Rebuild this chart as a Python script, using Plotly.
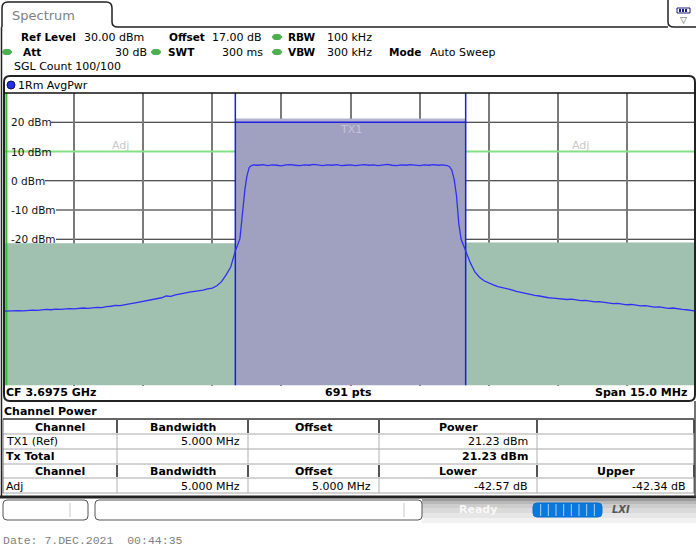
import plotly.graph_objects as go

W, H = 696, 551

# ---------------- data ----------------
center_freq_mhz = 3697.5
span_mhz = 15.0
sweep_points = 691
channel_bw_mhz = 5.0
adj_offset_mhz = 5.0
tx_power_dbm = 21.23
adj_lower_db = -42.57
adj_upper_db = -42.34
ref_level_dbm = 30.0
bottom_level_dbm = -70.0
limit_line_dbm = 10.0
y_tick_values = [20, 10, 0, -10, -20]
y_tick_labels = ["20 dBm", "10 dBm", "0 dBm", "-10 dBm", "-20 dBm"]

# trace (AvgPwr), dBm
adj_left_start, adj_left_step = 3690.0, 0.1
adj_left_level = [
    -44.6, -44.5, -44.6, -44.4, -44.5, -44.3, -44.2, -44.3, -44.1, -44.0,
    -44.1, -43.9, -44.0, -43.8, -43.7, -43.8, -43.6, -43.5, -43.6, -43.4,
    -43.3, -43.4, -43.0, -42.9, -42.6, -42.7, -42.3, -42.1, -41.8, -41.5,
    -41.2, -41.0, -40.6, -40.4, -40.0, -39.4, -39.5, -39.0, -38.8, -38.4,
    -38.1, -37.9, -37.6, -37.4, -37.0, -36.7, -35.9, -34.5, -32.2, -29.5,
]
rise_freq = [3695.0, 3695.05, 3695.10, 3695.15, 3695.18, 3695.21, 3695.25, 3695.30, 3695.35]
rise_level = [-24.0, -21.8, -19.8, -12.0, -6.5, -2.7, 1.5, 4.5, 5.2]
top_start, top_step = 3695.4, 0.1
top_level = [
    5.4, 5.3, 5.5, 5.2, 5.4, 5.3, 5.1, 5.4, 5.5, 5.3,
    5.2, 5.4, 5.3, 5.6, 5.3, 5.2, 5.4, 5.3, 5.5, 5.2,
    5.3, 5.4, 5.2, 5.3, 5.5, 5.3, 5.4, 5.2, 5.4, 5.6,
    5.3, 5.2, 5.4, 5.3, 5.5, 5.3, 5.2, 5.4, 5.3, 5.5,
    5.3, 5.4, 5.2,
]
fall_freq = [3699.65, 3699.70, 3699.75, 3699.80, 3699.85, 3699.90, 3699.95, 3700.0]
fall_level = [4.8, 3.6, 0.5, -5.0, -14.5, -20.0, -22.0, -24.0]
adj_right_start, adj_right_step = 3700.1, 0.1
adj_right_level = [
    -28.0, -31.2, -33.0, -34.2, -35.0, -35.6, -36.2, -36.5, -37.0, -37.3,
    -37.8, -38.2, -38.5, -38.8, -39.2, -39.4, -39.8, -40.0, -40.1, -40.3,
    -40.4, -40.6, -40.5, -40.8, -41.0, -40.9, -41.2, -41.4, -41.3, -41.6,
    -41.8, -42.0, -41.9, -42.2, -42.4, -42.3, -42.6, -42.8, -42.7, -43.0,
    -43.2, -43.1, -43.4, -43.6, -43.5, -43.8, -44.0, -44.1, -44.3, -44.6,
]

# result table
tbl_header1 = ["Channel", "Bandwidth", "Offset", "Power", ""]
tbl_row_tx = ["TX1 (Ref)", "5.000 MHz", "", "21.23 dBm", ""]
tbl_row_total = ["Tx Total", "", "", "21.23 dBm", ""]
tbl_header2 = ["Channel", "Bandwidth", "Offset", "Lower", "Upper"]
tbl_row_adj = ["Adj", "5.000 MHz", "5.000 MHz", "-42.57 dB", "-42.34 dB"]

# ---------------- build trace ----------------
freqs = [round(adj_left_start + i * adj_left_step, 3) for i in range(len(adj_left_level))]
levels = list(adj_left_level)
freqs += rise_freq
levels += rise_level
freqs += [round(top_start + i * top_step, 3) for i in range(len(top_level))]
levels += top_level
freqs += fall_freq
levels += fall_level
freqs += [round(adj_right_start + i * adj_right_step, 3) for i in range(len(adj_right_level))]
levels += adj_right_level

f_start = center_freq_mhz - span_mhz / 2
f_stop = center_freq_mhz + span_mhz / 2
tx_lo = center_freq_mhz - channel_bw_mhz / 2
tx_hi = center_freq_mhz + channel_bw_mhz / 2
adjL_lo = center_freq_mhz - adj_offset_mhz - channel_bw_mhz / 2
adjL_hi = center_freq_mhz - adj_offset_mhz + channel_bw_mhz / 2
adjU_lo = center_freq_mhz + adj_offset_mhz - channel_bw_mhz / 2
adjU_hi = center_freq_mhz + adj_offset_mhz + channel_bw_mhz / 2
adjL_top = tx_power_dbm + adj_lower_db
adjU_top = tx_power_dbm + adj_upper_db


def PX(x):
    return x / W


def PY(y):
    return 1 - y / H


shapes = []
ann = []

FONT = "DejaVu Sans"


def txt(x, y, s, size=11, bold=False, color="#000000", anchor="left", family=FONT):
    ann.append(dict(xref="paper", yref="paper", x=PX(x), y=PY(y),
                    text=("<b>%s</b>" % s) if bold else s, showarrow=False,
                    xanchor=anchor, yanchor="middle", borderpad=0,
                    font=dict(family=family, size=size, color=color)))


def pline(x0, y0, x1, y1, color="#000", width=1, layer="above"):
    shapes.append(dict(type="line", xref="paper", yref="paper", x0=PX(x0), y0=PY(y0),
                       x1=PX(x1), y1=PY(y1), line=dict(color=color, width=width), layer=layer))


def prect(x0, y0, x1, y1, fill, line=None, lw=0, layer="above"):
    shapes.append(dict(type="rect", xref="paper", yref="paper", x0=PX(x0), y0=PY(y0),
                       x1=PX(x1), y1=PY(y1), fillcolor=fill,
                       line=dict(color=line or fill, width=lw), layer=layer))


def proundrect(x0, y0, x1, y1, r, color="#000", width=1, fill=None, layer="above"):
    rx, ry = r / W, r / H
    a0, a1 = PX(x0), PX(x1)
    b0, b1 = PY(y0), PY(y1)  # b0 top, b1 bottom
    p = (f"M {a0+rx},{b0} L {a1-rx},{b0} Q {a1},{b0} {a1},{b0-ry} "
         f"L {a1},{b1+ry} Q {a1},{b1} {a1-rx},{b1} L {a0+rx},{b1} Q {a0},{b1} {a0},{b1+ry} "
         f"L {a0},{b0-ry} Q {a0},{b0} {a0+rx},{b0} Z")
    shapes.append(dict(type="path", xref="paper", yref="paper", path=p,
                       line=dict(color=color, width=width),
                       fillcolor=fill if fill else "rgba(0,0,0,0)", layer=layer))


def dot(x, y, rx, ry, color, line=None):
    shapes.append(dict(type="circle", xref="paper", yref="paper",
                       x0=PX(x - rx), x1=PX(x + rx), y0=PY(y + ry), y1=PY(y - ry),
                       fillcolor=color, line=dict(color=line or color, width=1), layer="above"))


# ---------------- header (tab + info) ----------------
tab = (f"M {PX(2)},{PY(27)} L {PX(2)},{PY(8)} Q {PX(2)},{PY(2)} {PX(8)},{PY(2)} "
       f"L {PX(106)},{PY(2)} Q {PX(112)},{PY(2)} {PX(112)},{PY(8)} L {PX(112)},{PY(22)} "
       f"Q {PX(112)},{PY(27)} {PX(118)},{PY(27)} L {PX(668)},{PY(27)}")
shapes.append(dict(type="path", xref="paper", yref="paper", path=tab,
                   line=dict(color="#222", width=1.5), layer="above"))
txt(11, 15, "Spectrum", size=13, color="#808080")
icon = (f"M {PX(668)},{PY(0)} L {PX(668)},{PY(22)} Q {PX(668)},{PY(27)} {PX(674)},{PY(27)} "
        f"L {PX(696)},{PY(27)}")
shapes.append(dict(type="path", xref="paper", yref="paper", path=icon,
                   line=dict(color="#222", width=1.5), layer="above"))
prect(677, 8, 690, 13, "#ffffff", line="#1a1a80", lw=1)
for xx in (679, 682, 685):
    prect(xx, 9, xx + 2, 12, "#1a1a80")
txt(683, 20, "▽", size=9, color="#555", anchor="center")
pline(1.5, 27, 1.5, 497, color="#222", width=1.5)

dot(277, 37, 4.5, 2.6, "#4caf50")
dot(7, 52, 4.5, 2.6, "#4caf50")
dot(156, 52, 4.5, 2.6, "#4caf50")
dot(277, 52, 4.5, 2.6, "#4caf50")

BS = 10.5
txt(20, 37, "Ref Level", bold=True, size=BS)
txt(83, 37, "30.00 dBm")
txt(168, 37, "Offset", bold=True, size=BS)
txt(211, 37, "17.00 dB")
txt(287, 37, "RBW", bold=True, size=BS)
txt(326, 37, "100 kHz")
txt(22, 52, "Att", bold=True, size=BS)
txt(148, 52, "30 dB", anchor="right")
txt(167, 52, "SWT", bold=True, size=BS)
txt(264, 52, "300 ms", anchor="right")
txt(287, 52, "VBW", bold=True, size=BS)
txt(326, 52, "300 kHz")
txt(388, 52, "Mode", bold=True, size=BS)
txt(429, 52, "Auto Sweep")
txt(13, 67, "SGL Count 100/100")

# ---------------- graph frame ----------------
proundrect(4, 76, 695, 401, 6, color="#222", width=2)
dot(11, 85, 4, 4, "#2030e0", line="#101060")
txt(17, 85, "1Rm AvgPwr")
pline(4, 93, 695, 93, color="#111", width=1.5)
txt(5, 393, "CF 3.6975 GHz", bold=True)
txt(348, 393, "%d pts" % sweep_points, bold=True, anchor="center")
txt(688, 393, "Span 15.0 MHz", bold=True, anchor="right")


# ---------------- chart content (data coords) ----------------
def dline(x0, y0, x1, y1, color, width=1, layer="between", xref="x"):
    shapes.append(dict(type="line", xref=xref, yref="y", x0=x0, y0=y0, x1=x1, y1=y1,
                       line=dict(color=color, width=width), layer=layer))


def drect(x0, y0, x1, y1, fill, layer="between"):
    shapes.append(dict(type="rect", xref="x", yref="y", x0=x0, y0=y0, x1=x1, y1=y1,
                       fillcolor=fill, line=dict(width=0), layer=layer))


for v in range(-60, 30, 10):
    lab_end = {20: 51, 10: 51, 0: 45, -10: 56, -20: 56}.get(v, 5)
    shapes.append(dict(type="line", xref="paper", yref="y", x0=PX(lab_end), x1=1.0,
                       y0=v, y1=v, line=dict(color="#1a1a1a", width=1), layer="below"))

dline(f_start, limit_line_dbm, f_stop, limit_line_dbm, "#86e086", 2)
drect(adjL_lo, bottom_level_dbm, adjL_hi, adjL_top, "#a0c0b0")
drect(adjU_lo, bottom_level_dbm, adjU_hi, adjU_top, "#a0c0b0")
drect(tx_lo, bottom_level_dbm, tx_hi, tx_power_dbm, "#a0a0c0")
drect(tx_lo, 20, tx_hi, tx_power_dbm, "#b2b2cc")
dline(tx_lo, 20, tx_hi, 20, "#2020e0", 1.5)
dline(tx_lo, bottom_level_dbm, tx_lo, ref_level_dbm, "#1a1af0", 1.5)
dline(tx_hi, bottom_level_dbm, tx_hi, ref_level_dbm, "#1a1af0", 1.5)
dline(f_start + 0.03, bottom_level_dbm, f_start + 0.03, ref_level_dbm, "#30c030", 2)
dline(f_stop - 0.02, bottom_level_dbm, f_stop - 0.02, ref_level_dbm, "#a8e8a8", 2)

for fx, lab, col in ((center_freq_mhz - adj_offset_mhz, "Adj", "#c8c8c8"),
                     (center_freq_mhz + adj_offset_mhz, "Adj", "#c8c8c8")):
    ann.append(dict(xref="x", yref="y", x=fx, y=12.2, text=lab, showarrow=False,
                    font=dict(family=FONT, size=11, color=col)))
ann.append(dict(xref="x", yref="y", x=center_freq_mhz, y=17.6, text="TX1", showarrow=False,
                font=dict(family=FONT, size=11, color="#c4c4d8")))

for v, lab in zip(y_tick_values, y_tick_labels):
    ann.append(dict(xref="paper", yref="y", x=PX(10), y=v, text=lab, showarrow=False,
                    xanchor="left", yanchor="middle", borderpad=0,
                    font=dict(family=FONT, size=10.5, color="#111")))

# ---------------- table ----------------
cols = [3, 117, 248, 379, 537, 694]
rows = [419, 434, 449, 464, 478, 493]
txt(3, 411, "Channel Power", bold=True)
pline(3, 419, 694, 419, color="#333", width=1.5)
for yy in rows[1:]:
    pline(3, yy, 694, yy, color="#a8a8a8", width=1)
pline(3, 419, 3, 493, color="#666", width=1)
pline(694, 419, 694, 493, color="#666", width=1)
for xx in cols[1:-1]:
    pline(xx, 434, xx, 464, color="#b0b0b0", width=1)
    pline(xx, 478, xx, 493, color="#b0b0b0", width=1)
    pline(xx, 420, xx, 433, color="#555", width=2)
    pline(xx, 465, xx, 477, color="#555", width=2)
pline(694, 420, 694, 433, color="#555", width=2)
pline(694, 465, 694, 477, color="#555", width=2)

centers = [(cols[i] + cols[i + 1]) / 2 for i in range(5)]
rights = [None, 241, 372, 529, 687]
row_y = [427, 441.5, 456.5, 471, 486]


def table_row(vals, y, header=False, bold=False):
    for i, v in enumerate(vals):
        if not v:
            continue
        if header:
            txt(centers[i], y, v, bold=True, anchor="center")
        elif i == 0:
            txt(5, y, v, bold=bold)
        else:
            txt(rights[i], y, v, bold=bold, anchor="right")


table_row(tbl_header1, row_y[0], header=True)
table_row(tbl_row_tx, row_y[1])
table_row(tbl_row_total, row_y[2], bold=True)
table_row(tbl_header2, row_y[3], header=True)
table_row(tbl_row_adj, row_y[4])

pline(0, 497, 696, 497, color="#222", width=3)
pline(695, 401, 695, 497, color="#444", width=1.5)

# ---------------- status bar ----------------
grad = [(498, 501, "#9a9a9a"), (501, 504, "#b8b8b8"), (504, 508, "#cdcdcd"),
        (508, 513, "#dadada"), (513, 518, "#e6e6e6"), (518, 523, "#f2f2f2")]
for y0, y1, c in grad:
    prect(422, y0, 696, y1, c)
proundrect(3, 500, 88, 520, 4, color="#555", width=1, fill="#ffffff")
pline(70, 503, 70, 517, color="#c8c8c8", width=1)
proundrect(95, 500, 422, 520, 4, color="#555", width=1, fill="#ffffff")
pline(404, 503, 404, 517, color="#c8c8c8", width=1)
txt(478, 510, "Ready", size=11, bold=True, color="#f8f8f8", anchor="center")
proundrect(533, 503, 602, 517, 4, color="#0a6fd0", width=1, fill="#0a78dc")
for k in range(1, 9):
    xx = 533 + k * 69 / 9
    pline(xx, 504, xx, 516, color="#a8d0f4", width=1)
txt(621, 510, "<i>LXI</i>", size=10, bold=True, color="#555", anchor="center")

txt(2, 540, "Date: 7.DEC.2021\u00a0\u00a000:44:35", size=11.5, color="#808080",
    family="Liberation Mono")

# ---------------- figure ----------------
fig = go.Figure()
fig.add_trace(go.Scatter(x=freqs, y=levels, mode="lines",
                         line=dict(color="#3030f4", width=1.3), hoverinfo="skip"))

fig.update_layout(
    width=W, height=H,
    margin=dict(l=0, r=0, t=0, b=0),
    paper_bgcolor="#ffffff", plot_bgcolor="#ffffff",
    showlegend=False,
    xaxis=dict(domain=[PX(5), 1.0], range=[f_start, f_stop], tick0=f_start, dtick=span_mhz / 10,
               showgrid=True, gridcolor="#7a7a7a", gridwidth=1.6, showticklabels=False,
               zeroline=False, showline=False, ticks=""),
    yaxis=dict(domain=[PY(385.5), PY(93)], range=[bottom_level_dbm, ref_level_dbm],
               showgrid=False, showticklabels=False, zeroline=False, showline=False, ticks=""),
    shapes=shapes,
    annotations=ann,
)

fig.write_html("out.html", config={"displayModeBar": False},
               post_script="document.body.style.margin='0';document.body.style.overflow='hidden';")
